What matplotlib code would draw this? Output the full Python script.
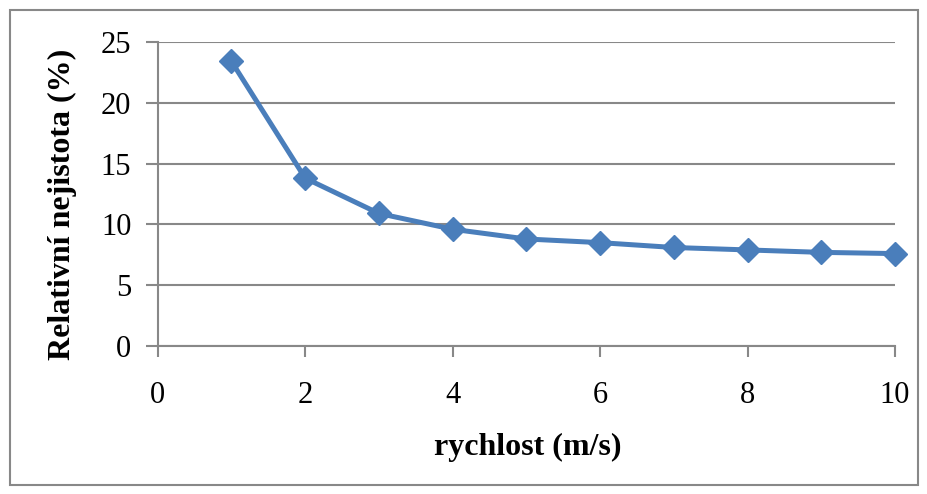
import matplotlib.pyplot as plt
from matplotlib.patches import Rectangle

# rychlost (m/s) a relativni nejistota (%)
rychlost = [1, 2, 3, 4, 5, 6, 7, 8, 9, 10]
nejistota = [23.4, 13.8, 10.9, 9.6, 8.8, 8.5, 8.1, 7.9, 7.7, 7.6]

x_ticks = [0, 2, 4, 6, 8, 10]
y_ticks = [0, 5, 10, 15, 20, 25]

plt.rcParams['font.family'] = ['Liberation Serif', 'DejaVu Serif']

fig = plt.figure(figsize=(9.28, 4.94), dpi=100)
ax = fig.add_axes([0.170, 0.2996, 0.7944, 0.6154])

# ramecek kolem grafu (jako v Excelu)
fig.patches.append(Rectangle((10 / 928, 9 / 494), 908 / 928, 475 / 494,
                             transform=fig.transFigure, fill=False,
                             edgecolor='#888888', linewidth=1.5))

ax.plot(rychlost, nejistota, color='#4A7EBB', linewidth=3.6,
        marker='D', markersize=12, markeredgecolor='#4A7EBB',
        markerfacecolor='#4A7EBB', clip_on=False)

ax.set_xlim(0, 10)
ax.set_ylim(0, 25)
ax.set_xticks(x_ticks)
ax.set_yticks(y_ticks)

ax.grid(axis='y', color='#888888', linewidth=1.5)
ax.set_axisbelow(True)
for s in ['top', 'right']:
    ax.spines[s].set_visible(False)
for s in ['left', 'bottom']:
    ax.spines[s].set_color('#888888')
    ax.spines[s].set_linewidth(1.5)

ax.tick_params(axis='y', direction='out', length=9, width=1.5, color='#888888',
               labelsize=22, pad=10)
ax.tick_params(axis='x', direction='out', length=8, width=1.5, color='#888888',
               labelsize=22, pad=17)

ax.set_xlabel('rychlost (m/s)', fontsize=23, fontweight='bold')
ax.set_ylabel('Relativní nejistota (%)', fontsize=23, fontweight='bold')
ax.xaxis.set_label_coords((528 - 158) / 737, (346 - 447) / 304)
ax.yaxis.set_label_coords((63 - 158) / 737, (346 - 204) / 304)
ax.xaxis.label.set_va('center')
ax.yaxis.label.set_va('center')

fig.savefig('out.png', dpi=100)
